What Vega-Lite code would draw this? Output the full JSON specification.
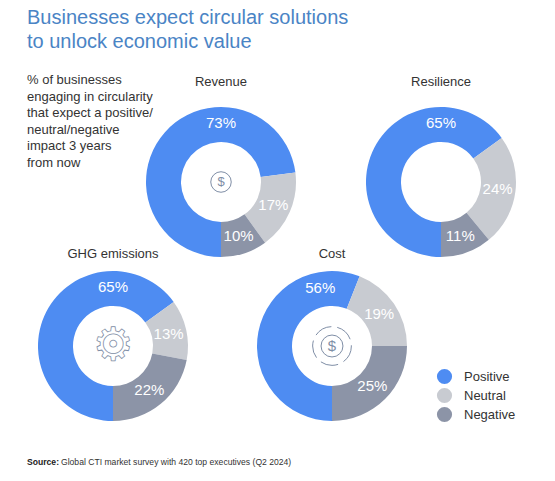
{
  "$schema": "https://vega.github.io/schema/vega-lite/v6.json",
  "background": "white",
  "padding": {"left": 27, "top": 8, "right": 5, "bottom": 5},
  "title": {
    "text": ["Businesses expect circular solutions", "to unlock economic value"],
    "subtitle": ["% of businesses", "engaging in circularity", "that expect a positive/", "neutral/negative", "impact 3 years", "from now"],
    "anchor": "start",
    "fontSize": 20,
    "lineHeight": 24,
    "color": "#4a84c5",
    "subtitleFont": "Liberation Sans",
    "subtitleFontSize": 13,
    "subtitleLineHeight": 16.6,
    "subtitleColor": "#333333",
    "subtitlePadding": 22,
    "offset": -94
  },
  "datasets": {
    "impact": [
      {"chart": "Revenue", "impact": "Positive", "share": 0.73, "rank": 1},
      {"chart": "Revenue", "impact": "Neutral", "share": 0.17, "rank": 2},
      {"chart": "Revenue", "impact": "Negative", "share": 0.10, "rank": 3},
      {"chart": "Resilience", "impact": "Positive", "share": 0.65, "rank": 1},
      {"chart": "Resilience", "impact": "Neutral", "share": 0.24, "rank": 2},
      {"chart": "Resilience", "impact": "Negative", "share": 0.11, "rank": 3},
      {"chart": "GHG emissions", "impact": "Positive", "share": 0.65, "rank": 1},
      {"chart": "GHG emissions", "impact": "Neutral", "share": 0.13, "rank": 2},
      {"chart": "GHG emissions", "impact": "Negative", "share": 0.22, "rank": 3},
      {"chart": "Cost", "impact": "Positive", "share": 0.56, "rank": 1},
      {"chart": "Cost", "impact": "Neutral", "share": 0.19, "rank": 2},
      {"chart": "Cost", "impact": "Negative", "share": 0.25, "rank": 3}
    ]
  },
  "spacing": -9,
  "resolve": {"scale": {"color": "independent"}, "legend": {"color": "independent"}},
  "vconcat": [
    {
      "bounds": "flush",
      "spacing": 70,
      "resolve": {"scale": {"color": "independent"}, "legend": {"color": "independent"}},
      "hconcat": [
        {"width": 49, "height": 150, "data": {"values": []}, "mark": "point"},
        {
          "width": 150, "height": 150,
          "title": {"text": "Revenue", "offset": 18},
          "data": {"name": "impact"},
          "transform": [{"filter": "datum.chart === 'Revenue'"}],
          "layer": [
            {
              "mark": {"type": "arc", "outerRadius": 75, "innerRadius": 40},
              "encoding": {
                "theta": {"field": "share", "type": "quantitative", "stack": true, "scale": {"domain": [0, 1], "range": [3.14159, 9.42478]}},
                "order": {"field": "rank"},
                "color": {"field": "impact", "type": "nominal", "scale": {"domain": ["Positive", "Neutral", "Negative"], "range": ["#4e8cf2", "#c8cbd1", "#8c94a7"]}, "legend": null}
              }
            },
            {
              "mark": {"type": "text", "radius": 57, "fontSize": 15, "color": "white"},
              "encoding": {
                "theta": {"field": "share", "type": "quantitative", "stack": true},
                "order": {"field": "rank"},
                "text": {"condition": {"test": "datum.impact === 'Positive'", "value": ""}, "field": "share", "type": "quantitative", "format": ".0%"}
              }
            },
            {
              "transform": [{"filter": "datum.impact === 'Positive'"}],
              "mark": {"type": "text", "radius": 59, "theta": 0, "fontSize": 15, "color": "white"},
              "encoding": {"text": {"field": "share", "type": "quantitative", "format": ".0%"}}
            },
            {
              "transform": [{"filter": "datum.impact === 'Positive'"}],
              "mark": {"type": "point", "shape": "circle", "size": 420, "filled": false, "stroke": "#7f8ea6", "strokeWidth": 1, "opacity": 1}
            },
            {
              "transform": [{"filter": "datum.impact === 'Positive'"}],
              "mark": {"type": "text", "fontSize": 13, "color": "#7f8ea6"},
              "encoding": {"text": {"value": "$"}}
            }
          ]
        },
        {
          "width": 150, "height": 150,
          "title": {"text": "Resilience", "offset": 18},
          "data": {"name": "impact"},
          "transform": [{"filter": "datum.chart === 'Resilience'"}],
          "layer": [
            {
              "mark": {"type": "arc", "outerRadius": 75, "innerRadius": 40},
              "encoding": {
                "theta": {"field": "share", "type": "quantitative", "stack": true, "scale": {"domain": [0, 1], "range": [3.14159, 9.42478]}},
                "order": {"field": "rank"},
                "color": {"field": "impact", "type": "nominal", "scale": {"domain": ["Positive", "Neutral", "Negative"], "range": ["#4e8cf2", "#c8cbd1", "#8c94a7"]}, "legend": null}
              }
            },
            {
              "mark": {"type": "text", "radius": 57, "fontSize": 15, "color": "white"},
              "encoding": {
                "theta": {"field": "share", "type": "quantitative", "stack": true},
                "order": {"field": "rank"},
                "text": {"condition": {"test": "datum.impact === 'Positive'", "value": ""}, "field": "share", "type": "quantitative", "format": ".0%"}
              }
            },
            {
              "transform": [{"filter": "datum.impact === 'Positive'"}],
              "mark": {"type": "text", "radius": 59, "theta": 0, "fontSize": 15, "color": "white"},
              "encoding": {"text": {"field": "share", "type": "quantitative", "format": ".0%"}}
            }
          ]
        }
      ]
    },
    {
      "bounds": "flush",
      "spacing": 58,
      "resolve": {"scale": {"color": "independent"}, "legend": {"color": "independent"}},
      "hconcat": [
        {
          "width": 172, "height": 150,
          "title": {"text": "GHG emissions", "offset": 10},
          "data": {"name": "impact"},
          "transform": [{"filter": "datum.chart === 'GHG emissions'"}],
          "layer": [
            {
              "mark": {"type": "arc", "outerRadius": 75, "innerRadius": 40},
              "encoding": {
                "theta": {"field": "share", "type": "quantitative", "stack": true, "scale": {"domain": [0, 1], "range": [3.14159, 9.42478]}},
                "order": {"field": "rank"},
                "color": {"field": "impact", "type": "nominal", "scale": {"domain": ["Positive", "Neutral", "Negative"], "range": ["#4e8cf2", "#c8cbd1", "#8c94a7"]}, "legend": null}
              }
            },
            {
              "mark": {"type": "text", "radius": 57, "fontSize": 15, "color": "white"},
              "encoding": {
                "theta": {"field": "share", "type": "quantitative", "stack": true},
                "order": {"field": "rank"},
                "text": {"condition": {"test": "datum.impact === 'Positive'", "value": ""}, "field": "share", "type": "quantitative", "format": ".0%"}
              }
            },
            {
              "transform": [{"filter": "datum.impact === 'Positive'"}],
              "mark": {"type": "text", "radius": 59, "theta": 0, "fontSize": 15, "color": "white"},
              "encoding": {"text": {"field": "share", "type": "quantitative", "format": ".0%"}}
            },
            {
              "transform": [{"filter": "datum.impact === 'Positive'"}],
              "mark": {"type": "text", "font": "DejaVu Sans", "fontSize": 46, "fill": "white", "stroke": "#7f8ea6", "strokeWidth": 0.8},
              "encoding": {"text": {"value": "⚙"}}
            }
          ]
        },
        {
          "width": 150, "height": 150,
          "title": {"text": "Cost", "offset": 10},
          "data": {"name": "impact"},
          "transform": [{"filter": "datum.chart === 'Cost'"}],
          "layer": [
            {
              "mark": {"type": "arc", "outerRadius": 75, "innerRadius": 40},
              "encoding": {
                "theta": {"field": "share", "type": "quantitative", "stack": true, "scale": {"domain": [0, 1], "range": [3.14159, 9.42478]}},
                "order": {"field": "rank"},
                "color": {
                  "field": "impact", "type": "nominal",
                  "scale": {"domain": ["Positive", "Neutral", "Negative"], "range": ["#4e8cf2", "#c8cbd1", "#8c94a7"]},
                  "legend": {
                    "orient": "none", "legendX": 179.5, "legendY": 97.5, "title": null, "padding": 0,
                    "symbolType": "circle", "symbolSize": 230, "symbolOpacity": 1, "symbolStrokeWidth": 0,
                    "labelFont": "Liberation Sans", "labelFontSize": 13, "labelColor": "#333333", "labelOffset": 11.5, "rowPadding": 3
                  }
                }
              }
            },
            {
              "mark": {"type": "text", "radius": 57, "fontSize": 15, "color": "white"},
              "encoding": {
                "theta": {"field": "share", "type": "quantitative", "stack": true},
                "order": {"field": "rank"},
                "text": {"condition": {"test": "datum.impact === 'Positive'", "value": ""}, "field": "share", "type": "quantitative", "format": ".0%"}
              }
            },
            {
              "transform": [{"filter": "datum.impact === 'Positive'"}],
              "mark": {"type": "text", "radius": 59, "theta": -0.2, "fontSize": 15, "color": "white"},
              "encoding": {"text": {"field": "share", "type": "quantitative", "format": ".0%"}}
            },
            {
              "transform": [{"filter": "datum.impact === 'Positive'"}],
              "mark": {"type": "point", "shape": "circle", "size": 1500, "filled": false, "stroke": "#7f8ea6", "strokeWidth": 1, "strokeDash": [18, 6], "opacity": 1}
            },
            {
              "transform": [{"filter": "datum.impact === 'Positive'"}],
              "mark": {"type": "point", "shape": "circle", "size": 480, "filled": false, "stroke": "#7f8ea6", "strokeWidth": 1, "opacity": 1}
            },
            {
              "transform": [{"filter": "datum.impact === 'Positive'"}],
              "mark": {"type": "text", "fontSize": 15, "color": "#7f8ea6"},
              "encoding": {"text": {"value": "$"}}
            }
          ]
        }
      ]
    },
    {
      "bounds": "flush",
      "spacing": 0,
      "hconcat": [
        {"width": 34, "height": 1, "data": {"values": []}, "mark": "point",
         "title": {"text": "Source:", "orient": "bottom", "fontSize": 8.6, "fontWeight": "bold", "anchor": "start", "color": "#222222", "offset": 34}},
        {"width": 240, "height": 1, "data": {"values": []}, "mark": "point",
         "title": {"text": "Global CTI market survey with 420 top executives (Q2 2024)", "orient": "bottom", "fontSize": 8.6, "anchor": "start", "color": "#333333", "offset": 34}}
      ]
    }
  ],
  "config": {
    "font": "Liberation Sans",
    "view": {"stroke": null},
    "title": {"fontSize": 13, "fontWeight": "normal", "color": "#333333"}
  }
}
